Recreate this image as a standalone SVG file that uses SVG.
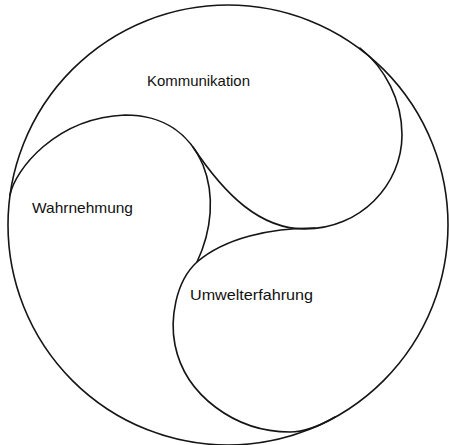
<svg xmlns="http://www.w3.org/2000/svg" width="449" height="445" viewBox="0 0 449 445">
<style>
.ln{fill:none;stroke:#151515;stroke-width:1.6;stroke-linecap:round;stroke-linejoin:round}
.lb{font-family:"Liberation Sans",Arial,sans-serif;font-size:15px;fill:#111}
</style>
<rect width="449" height="445" fill="#fff"/>
<g id="outer">
<circle class="ln" cx="228" cy="225" r="220"/>
</g>
<g id="kommunikation">
<path class="ln" d="M360,48 C385,68 402,100 402,135 C402,185 360,229 305,229 C260,229 225,195 193,147"/>
<text class="lb" x="147" y="86" textLength="103" lengthAdjust="spacingAndGlyphs">Kommunikation</text>
</g>
<g id="wahrnehmung">
<path class="ln" d="M10,195 C15,170 55,118 125,115 C165,115 190,135 203,165 C215,195 212,230 197,262"/>
<text class="lb" x="32" y="213" textLength="101" lengthAdjust="spacingAndGlyphs">Wahrnehmung</text>
</g>
<g id="umwelterfahrung">
<path class="ln" d="M315,228 C270,228 225,238 197,262 C175,282 170,320 175,345 C185,395 235,432 290,432 C305,432 318,427 335,417"/>
<text class="lb" x="190" y="300" textLength="123" lengthAdjust="spacingAndGlyphs">Umwelterfahrung</text>
</g>
<g id="connectors"/>
</svg>
